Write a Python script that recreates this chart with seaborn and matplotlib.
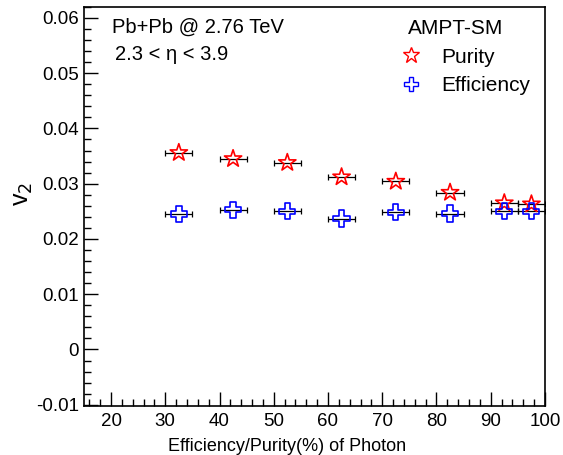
import numpy as np
import pandas as pd
import matplotlib
matplotlib.use("Agg")
import matplotlib.pyplot as plt
import seaborn as sns
from matplotlib.lines import Line2D
from matplotlib.ticker import MultipleLocator

# data
x_vals = [32.5, 42.5, 52.5, 62.5, 72.5, 82.5, 92.5, 97.5]
x_err = [2.5, 2.5, 2.5, 2.5, 2.5, 2.5, 2.5, 2.5]
purity_v2 = [0.0356, 0.0345, 0.0338, 0.0312, 0.0304, 0.0284, 0.0265, 0.0263]
efficiency_v2 = [0.0245, 0.0253, 0.0250, 0.0237, 0.0248, 0.0246, 0.0250, 0.0250]

sns.set_style("ticks")
plt.rcParams['font.family'] = ['Liberation Sans', 'DejaVu Sans']
for k in ['text.color', 'axes.labelcolor', 'xtick.color', 'ytick.color']:
    plt.rcParams[k] = 'black'

fig = plt.figure(figsize=(5.63, 4.55), dpi=100)
ax = fig.add_axes([0.149, 0.108, 0.819, 0.877])

df_p = pd.DataFrame({"x": x_vals, "v2": purity_v2})
df_e = pd.DataFrame({"x": x_vals, "v2": efficiency_v2})

ax.errorbar(x_vals, purity_v2, xerr=x_err, fmt='none', ecolor='black',
            elinewidth=0.9, capsize=2.5, capthick=0.9, zorder=2)
ax.errorbar(x_vals, efficiency_v2, xerr=x_err, fmt='none', ecolor='black',
            elinewidth=0.9, capsize=2.5, capthick=0.9, zorder=2)

sns.scatterplot(data=df_p, x="x", y="v2", ax=ax, marker='*', s=170,
                color='red', facecolor='none', edgecolor='red', linewidth=1.2, zorder=3)
sns.scatterplot(data=df_e, x="x", y="v2", ax=ax, marker='P', s=135,
                color='blue', facecolor='none', edgecolor='blue', linewidth=1.2, zorder=3)

ax.set_xlim(15, 100)
ax.set_ylim(-0.0102, 0.062)
ax.xaxis.set_major_locator(MultipleLocator(10))
ax.xaxis.set_minor_locator(MultipleLocator(2))
ax.yaxis.set_major_locator(MultipleLocator(0.01))
ax.yaxis.set_minor_locator(MultipleLocator(0.002))
ax.set_yticks(np.arange(-0.01, 0.0601, 0.01))
ax.set_yticklabels(['-0.01', '0', '0.01', '0.02', '0.03', '0.04', '0.05', '0.06'])
ax.set_xticks(np.arange(20, 101, 10))
ax.tick_params(axis='both', which='major', direction='in', length=10, width=1,
               labelsize=13.5, top=False, right=False)
ax.tick_params(axis='both', which='minor', direction='in', length=5, width=1,
               top=False, right=False)
ax.tick_params(axis='x', pad=5)
for sp in ax.spines.values():
    sp.set_visible(True)
    sp.set_linewidth(1.2)
    sp.set_color('black')

ax.set_xlabel("Efficiency/Purity(%) of Photon", fontsize=13, labelpad=2)
ax.xaxis.set_label_coords(0.44, -0.08)
ax.set_ylabel("v$_{2}$", fontsize=18, labelpad=4)
ax.yaxis.set_label_coords(-0.105, 0.53)

ax.text(0.06, 0.95, "Pb+Pb @ 2.76 TeV", transform=ax.transAxes, fontsize=14.5, va='center')
ax.text(0.068, 0.88, "2.3 < η < 3.9", transform=ax.transAxes, fontsize=14.5, va='center')

handles = [Line2D([], [], marker='*', ls='none', markersize=12, markerfacecolor='none',
                  markeredgecolor='red', markeredgewidth=1.0),
           Line2D([], [], marker='P', ls='none', markersize=10, markerfacecolor='none',
                  markeredgecolor='blue', markeredgewidth=1.0)]
leg = ax.legend(handles, ["Purity", "Efficiency"], title="AMPT-SM", loc='upper right',
                bbox_to_anchor=(0.996, 1.0), frameon=False, fontsize=15, title_fontsize=15,
                handlelength=0.3, handletextpad=1.3, labelspacing=0.45, borderaxespad=0.2)
leg._legend_box.align = "left"

fig.savefig("out.png", dpi=100)
